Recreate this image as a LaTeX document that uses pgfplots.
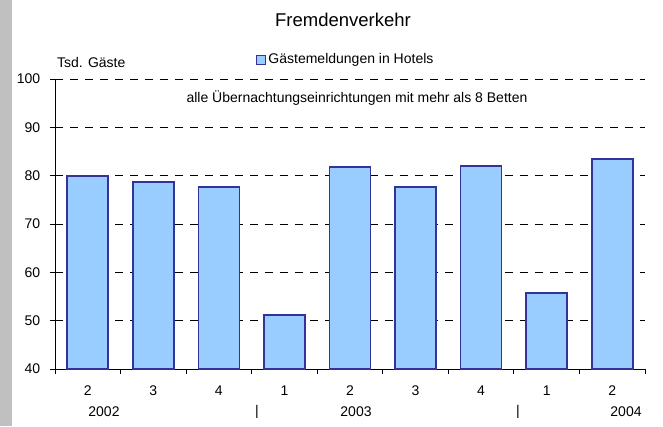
\documentclass[border=0pt]{standalone}
\usepackage{pgfplots}
\pgfplotsset{compat=1.18}
\usepackage{fontspec}
\setmainfont{Liberation Sans}
\definecolor{barfill}{RGB}{153,204,255}
\definecolor{baredge}{RGB}{51,51,153}
\definecolor{strip}{RGB}{192,192,192}
\begin{document}
\fontsize{14pt}{16pt}\selectfont
\begin{tikzpicture}[x=1pt,y=1pt]
\useasboundingbox (0,0) rectangle (663,426);
\fill[strip] (0,0) rectangle (12,426);
\begin{axis}[
  at={(55pt,57pt)}, anchor=south west,
  scale only axis, width=590pt, height=290pt,
  xmin=-0.5, xmax=8.5, ymin=40, ymax=100,
  axis x line=bottom, axis y line=left,
  axis line style={-, black, line width=0.8pt},
  /pgf/number format/assume math mode=true,
  ticklabel style={font=\fontsize{14pt}{16pt}\selectfont},
  ytick={40,50,...,100},
  ymajorgrids, grid style={black, dash pattern=on 8pt off 7pt, line width=0.8pt},
  xtick={-0.5,0.5,...,8.5}, xticklabels={},
  extra x ticks={0,1,...,8},
  extra x tick labels={2,3,4,1,2,3,4,1,2},
  extra x tick style={major tick length=0pt, grid=none, xticklabel style={anchor=center, yshift=-22pt}},
  tick align=outside, major tick length=5pt,
  tick style={black, line width=0.8pt},
  yticklabel style={anchor=east, xshift=-5pt},
  legend style={at={(0.493,1.066)}, anchor=center, draw=none, fill=none,
    font=\fontsize{14pt}{16pt}\selectfont},
  legend image code/.code={\draw[#1, line width=1.2pt] (0pt,-4.5pt) rectangle (9pt,4.5pt);},
]
\addplot[ybar, bar width=0.625, fill=barfill, draw=baredge, line width=1.6pt]
  coordinates {(0,79.9) (1,78.7) (2,77.6) (3,51.2) (4,81.8) (5,77.6) (6,82.0) (7,55.7) (8,83.4)};
\addlegendentry{Gästemeldungen in Hotels}
\end{axis}
\node[font=\fontsize{18.5pt}{22pt}\selectfont] at (343,406) {Fremdenverkehr};
\node[anchor=west, inner sep=0pt] at (57,364) {Tsd. Gäste};
\node at (357,328) {alle Übernachtungseinrichtungen mit mehr als 8 Betten};
\node at (104,14) {2002};
\node at (257,14) {|};
\node at (356,14) {2003};
\node at (518,14) {|};
\node at (626,14) {2004};
\end{tikzpicture}
\end{document}
